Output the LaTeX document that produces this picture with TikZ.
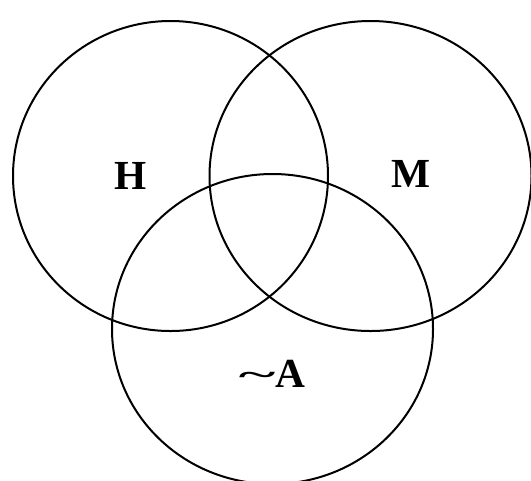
\documentclass[tikz,border=0pt]{standalone}
\usepackage{fontspec}
\setmainfont{Liberation Serif}

\tikzset{every picture/.style={line width=0.75pt}}

\begin{document}
\begin{tikzpicture}[x=0.75pt,y=0.75pt,yscale=-1,xscale=1]
\useasboundingbox (0,0) rectangle (531,480);
\clip (0,0) rectangle (531,480);

%Shape: Circle [id:H]
\draw [line width=1.5]  (170.5,176) ellipse (157.5 and 155) ;
%Shape: Circle [id:M]
\draw [line width=1.5]  (370.5,176) ellipse (161 and 155) ;
%Shape: Circle [id:A]
\draw [line width=1.5]  (272.5,329) ellipse (160.5 and 155) ;

% Text Node
\node (labH) at (131,176) [inner sep=0.75pt]  {\fontsize{31}{34}\selectfont\bfseries H};
% Text Node
\node (labM) at (411,174) [inner sep=0.75pt]  {\fontsize{31}{34}\selectfont\bfseries M};
% Text Node
\node (labA) at (272,374) [inner sep=0.75pt]  {\fontsize{31}{34}\selectfont\bfseries \raisebox{0.08em}{\scalebox{1.7}[0.7]{\textasciitilde}}A};

\end{tikzpicture}
\end{document}
